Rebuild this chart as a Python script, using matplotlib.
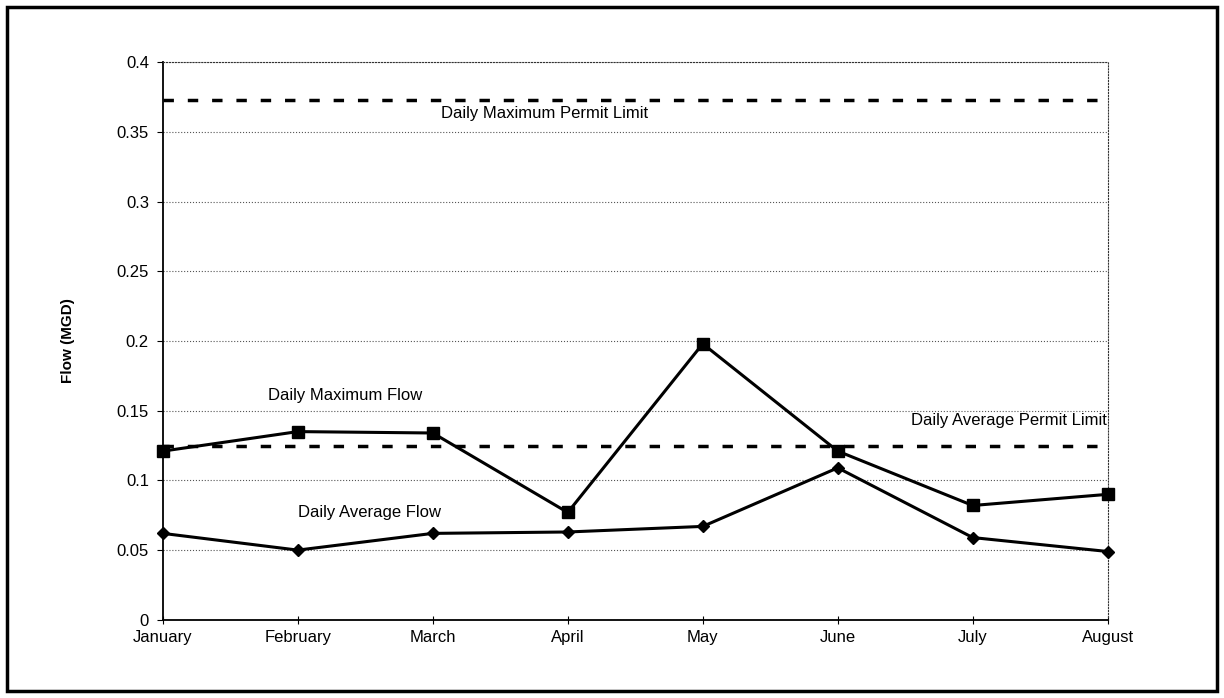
import numpy as np
import matplotlib
matplotlib.use('Agg')
import matplotlib.pyplot as plt
from matplotlib.patches import Rectangle

months = ['January', 'February', 'March', 'April', 'May', 'June', 'July', 'August']
max_flow = [0.121, 0.135, 0.134, 0.077, 0.198, 0.121, 0.082, 0.090]
avg_flow = [0.062, 0.050, 0.062, 0.063, 0.067, 0.109, 0.059, 0.049]
max_permit = 0.373
avg_permit = 0.125

plt.rcParams['font.family'] = ['Liberation Sans', 'DejaVu Sans']

fig = plt.figure(figsize=(12.24, 6.98), dpi=100)
ax = fig.add_axes([0.133, 0.112, 0.772, 0.799])

x = np.arange(len(months))

# grid
ax.set_yticks(np.arange(0, 0.401, 0.05))
ax.yaxis.grid(True, linestyle=':', color='#555555', linewidth=0.8)
ax.set_axisbelow(True)

# permit limits
ax.plot([x[0], x[-1]], [max_permit, max_permit], color='black', lw=2.5, linestyle=(0, (3, 4)), clip_on=False)
ax.plot([x[0], x[-1]], [avg_permit, avg_permit], color='black', lw=2.5, linestyle=(0, (3, 4)), clip_on=False)

# flows
ax.plot(x, max_flow, color='black', lw=2.2, marker='s', markersize=8, clip_on=False, zorder=5)
ax.plot(x, avg_flow, color='black', lw=2.2, marker='D', markersize=6, clip_on=False, zorder=5)

fs = 12
ax.text(2.83, 0.363, 'Daily Maximum Permit Limit', ha='center', va='center', fontsize=fs)
ax.text(1.35, 0.161, 'Daily Maximum Flow', ha='center', va='center', fontsize=fs)
ax.text(6.27, 0.143, 'Daily Average Permit Limit', ha='center', va='center', fontsize=fs)
ax.text(1.53, 0.077, 'Daily Average Flow', ha='center', va='center', fontsize=fs)

ax.set_xlim(x[0], x[-1])
ax.set_ylim(0, 0.4)
ax.set_xticks(x)
ax.set_xticklabels(months, fontsize=fs)
ax.set_yticklabels(['0', '0.05', '0.1', '0.15', '0.2', '0.25', '0.3', '0.35', '0.4'], fontsize=fs)
ax.tick_params(axis='x', direction='inout', length=6, pad=4)
ax.tick_params(axis='y', direction='out', length=4, pad=6)

for s in ['top', 'right']:
    ax.spines[s].set_linestyle(':')
    ax.spines[s].set_color('#333333')
ax.spines['left'].set_linewidth(1.3)
ax.spines['bottom'].set_linewidth(1.3)

ax.set_ylabel('Flow (MGD)', fontsize=11, fontweight='bold', labelpad=30)

# outer frame
fig.patches.append(Rectangle((0.006, 0.01), 0.988, 0.98, transform=fig.transFigure,
                             fill=False, edgecolor='black', linewidth=2.5))

fig.savefig('out.png', dpi=100)
